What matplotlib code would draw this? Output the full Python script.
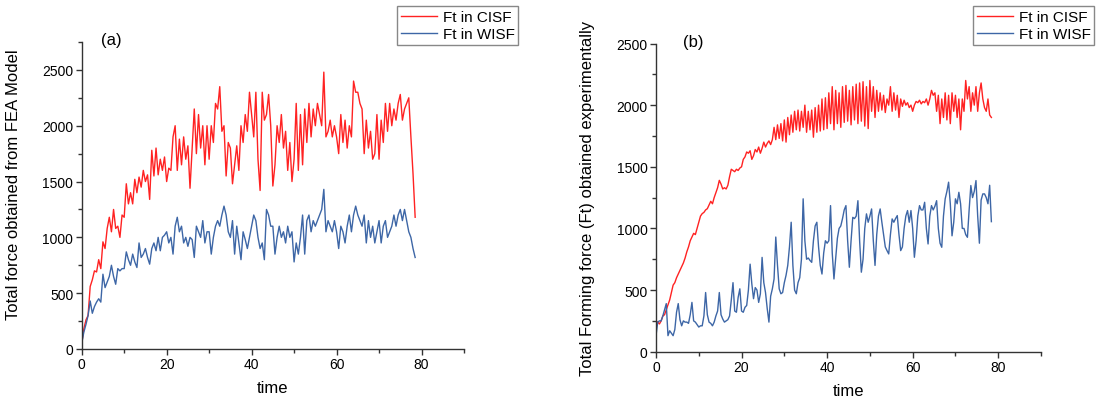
import numpy as np
import matplotlib.pyplot as plt
from matplotlib.ticker import MultipleLocator

plt.rcParams['font.family'] = ['Liberation Sans', 'DejaVu Sans']

# (a) FEA model, sampled every 0.5 time units
fea_step = 0.5
fea_cisf = [
    50, 180, 260, 300, 560, 620, 700, 690, 800, 720,
    960, 900, 1080, 1180, 1050, 1250, 1080, 1100, 1000, 1200,
    1180, 1480, 1300, 1400, 1300, 1520, 1400, 1540, 1450, 1600,
    1500, 1560, 1340, 1780, 1550, 1800, 1560, 1700, 1600, 1720,
    1500, 1620, 1600, 1900, 2000, 1600, 1880, 1650, 1900, 1700,
    1820, 1440, 1800, 2150, 1750, 2100, 1800, 2000, 1650, 2000,
    1700, 2000, 1850, 2200, 2150, 2350, 1950, 2000, 1550, 1850,
    1800, 1480, 1650, 1820, 1600, 2000, 1850, 2100, 1950, 2300,
    2100, 1900, 2300, 1700, 1420, 2300, 2050, 2100, 2280, 2000,
    1460, 1650, 2000, 1850, 2100, 1800, 1950, 1600, 1850, 1500,
    1700, 2200, 1600, 2100, 1650, 2150, 1850, 2200, 1900, 2150,
    2000, 2200, 2100, 2000, 2480, 1900, 1950, 2050, 1900, 2000,
    1900, 1750, 2100, 1850, 2050, 1800, 2000, 1900, 2400, 2300,
    2300, 2200, 2150, 1750, 2050, 1800, 1950, 1700, 1750, 2100,
    1700, 2050, 1850, 2200, 1950, 2200, 2000, 2150, 2050, 2200,
    2280, 2050, 2150, 2200, 2250, 1900, 1570, 1180,
]
fea_wisf = [
    50, 150, 220, 300, 430, 320, 380, 420, 450, 420,
    670, 550, 600, 650, 750, 650, 580, 720, 700, 720,
    720, 870, 800, 750, 850, 780, 730, 950, 820, 850,
    900, 820, 760, 900, 950, 880, 1000, 880, 1000, 1020,
    1050, 950, 1000, 850, 1100, 1180, 1050, 1100, 950, 1000,
    920, 1000, 980, 820, 1100, 1050, 1000, 1150, 950, 1050,
    1050, 850, 1000, 1100, 1150, 1100, 1200, 1280, 1200, 1050,
    1000, 1150, 850, 1100, 950, 800, 1050, 980, 900, 1000,
    1100, 1200, 1150, 1000, 900, 950, 800, 1250, 1200, 1100,
    1100, 850, 1000, 1100, 1000, 1050, 950, 1100, 1000, 1050,
    780, 950, 850, 1000, 1200, 850, 1150, 1200, 1050, 1150,
    1100, 1150, 1200, 1250, 1430, 1050, 1150, 1100, 1050, 1150,
    1050, 900, 1100, 1050, 950, 1100, 1200, 1050, 1200, 1280,
    1200, 1150, 1100, 1200, 950, 1150, 1000, 1100, 950, 1050,
    1150, 950, 1100, 1150, 1000, 1050, 1100, 1200, 1100, 1200,
    1250, 1150, 1250, 1150, 1050, 1000, 900, 820,
]

# (b) experiment, sampled every 0.4 time units
exp_step = 0.4
exp_cisf = [
    250, 240, 225, 250, 290, 300, 340, 380, 420, 480,
    540, 560, 600, 630, 660, 690, 720, 760, 810, 850,
    900, 930, 960, 950, 1000, 1050, 1100, 1120, 1130, 1150,
    1160, 1190, 1220, 1200, 1250, 1290, 1330, 1390, 1360, 1320,
    1330, 1320, 1350, 1420, 1480, 1470, 1460, 1480, 1470, 1490,
    1500, 1560, 1580, 1620, 1610, 1630, 1560, 1590, 1640, 1620,
    1660, 1610, 1650, 1700, 1660, 1690, 1710, 1680, 1720, 1820,
    1720, 1840, 1730, 1850, 1710, 1880, 1700, 1900, 1760, 1920,
    1780, 1950, 1800, 1960, 1790, 1950, 1820, 2000, 1780, 1950,
    1800, 1960, 1740, 1980, 1780, 2000, 1790, 2050, 1800, 2060,
    1810, 2100, 1850, 2150, 1800, 2120, 1850, 2100, 1820, 2150,
    1860, 2160, 1870, 2120, 1840, 2150, 1880, 2170, 1850, 2180,
    1870, 2190, 1830, 2150, 1810, 2200, 1950, 2150, 1900, 2120,
    1950, 2100, 1960, 2080, 1940, 2050, 2000, 2150, 1950, 2100,
    1960, 2080, 1900, 2050, 1990, 2040, 2000, 2020, 1980, 2000,
    1950, 2000, 2030, 2020, 2040, 2010, 2030, 2020, 2050, 2000,
    2050, 2120, 2080, 2100, 1950, 2080, 1850, 2050, 1900, 2100,
    1880, 2080, 1850, 2100, 1950, 2080, 1900, 2050, 1800, 2050,
    1950, 2200, 2050, 2150, 1950, 2100, 2000, 2150, 1950, 2100,
    2180, 2050, 1980, 1950, 2050, 1920, 1900,
]
exp_wisf = [
    130, 240, 250, 250, 290, 340, 390, 130, 170, 150,
    130, 180, 320, 390, 260, 210, 250, 240, 240, 230,
    300, 400, 250, 240, 220, 200, 210, 210, 290, 480,
    300, 240, 230, 210, 240, 290, 330, 480, 300, 265,
    240, 250, 260, 290, 420, 560, 330, 320, 440, 510,
    330, 320, 360, 375, 500, 710, 550, 430, 520, 500,
    400, 470, 765, 560, 480, 350, 240, 450, 510, 590,
    930, 700, 510, 470, 480, 560, 620, 700, 850, 1050,
    700, 500, 470, 560, 600, 750, 1240, 900, 750, 760,
    740, 725, 900, 1020, 1050, 850, 700, 630, 800, 900,
    880, 900, 1185, 800, 590, 750, 920, 1000, 1020, 1080,
    1150, 1185, 900, 685, 900, 1090, 1080, 1100, 1225, 900,
    645, 750, 1000, 1118, 1050, 1100, 1158, 900, 700, 950,
    1100, 1158, 1050, 950, 850, 820, 793, 950, 1077, 1050,
    1080, 1104, 950, 820, 850, 1000, 1100, 1145, 1050, 1145,
    1000, 766, 900, 1100, 1185, 1150, 1150, 1212, 1000, 874,
    1100, 1185, 1150, 1180, 1225, 1000, 880, 847, 1100, 1240,
    1300, 1375, 1200, 940, 1050, 1240, 1200, 1293, 1200, 1000,
    1000, 950, 928, 1150, 1348, 1250, 1300, 1388, 1100, 880,
    1230, 1280, 1280, 1250, 1200, 1350, 1055,
]

series_names = ['Ft in CISF', 'Ft in WISF']
red = '#ff2222'
blue = '#3d66a6'

fea_t = np.arange(len(fea_cisf)) * fea_step
exp_t = np.arange(len(exp_cisf)) * exp_step

W, H = 1096, 402
fig = plt.figure(figsize=(W / 100, H / 100), dpi=100)
ax1 = fig.add_axes([81.7 / W, 1 - 350 / H, 382.3 / W, 307 / H])
ax2 = fig.add_axes([656 / W, 1 - 352.7 / H, 385 / W, 308.2 / H])


def style(ax, ytop):
    ax.set_xlim(0, 90)
    ax.set_ylim(0, ytop)
    ax.xaxis.set_major_locator(MultipleLocator(20))
    ax.xaxis.set_minor_locator(MultipleLocator(10))
    ax.yaxis.set_major_locator(MultipleLocator(500))
    ax.yaxis.set_minor_locator(MultipleLocator(250))
    for s in ['top', 'right']:
        ax.spines[s].set_visible(False)
    for s in ['left', 'bottom']:
        ax.spines[s].set_linewidth(1.0)
        ax.spines[s].set_color('#333333')
    ax.tick_params(which='major', direction='out', length=4, width=1,
                   labelsize=10, color='#333333', pad=2)
    ax.tick_params(which='minor', direction='out', length=3, width=1,
                   color='#333333')
    ax.set_xlabel('time', fontsize=12)


ax1.plot(fea_t, fea_cisf, color=red, lw=1.0, label=series_names[0])
ax1.plot(fea_t, fea_wisf, color=blue, lw=1.0, label=series_names[1])
style(ax1, 2750)
ax1.set_ylabel('Total force obtained from FEA Model', fontsize=12)
ax1.yaxis.set_label_coords(-0.16, 0.54)
ax1.xaxis.set_label_coords(0.5, -0.1)

ax2.plot(exp_t, exp_cisf, color=red, lw=1.0, label=series_names[0])
ax2.plot(exp_t, exp_wisf, color=blue, lw=1.0, label=series_names[1])
style(ax2, 2500)
ax2.set_ylabel('Total Forming force (Ft) obtained experimentally', fontsize=12)
ax2.yaxis.set_label_coords(-0.158, 0.5)
ax2.xaxis.set_label_coords(0.5, -0.1)

for ax, x0 in [(ax1, 396.7), (ax2, 972.7)]:
    leg = ax.legend(loc='upper left', bbox_to_anchor=(x0 / W, 1 - 7.3 / H),
                    bbox_transform=fig.transFigure, fontsize=11,
                    frameon=True, fancybox=False, framealpha=1,
                    edgecolor='#888888', borderpad=0.25, labelspacing=0.2,
                    handlelength=2.4, handletextpad=0.35, borderaxespad=0)
    leg.get_frame().set_linewidth(1.0)

fig.text(111 / W, 1 - 40 / H, '(a)', fontsize=12, ha='center', va='center')
fig.text(693 / W, 1 - 43 / H, '(b)', fontsize=12, ha='center', va='center')

fig.savefig('out.png', dpi=100)
